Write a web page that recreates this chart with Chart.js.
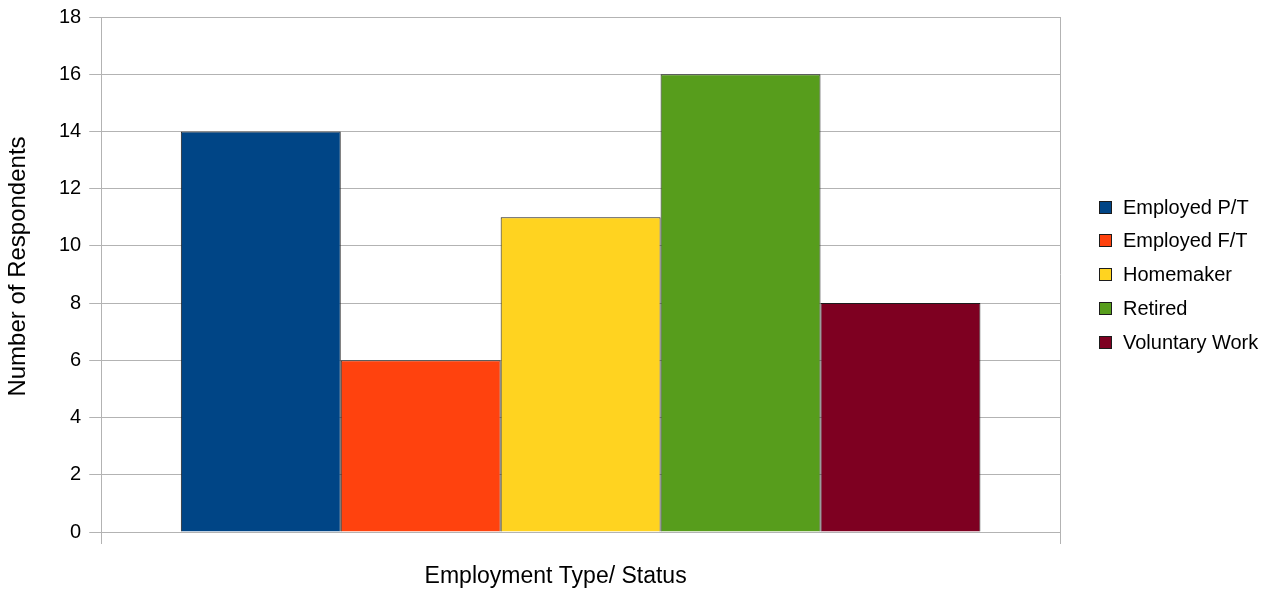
<!DOCTYPE html>
<html>
<head>
<meta charset="utf-8">
<script src="https://cdn.jsdelivr.net/npm/chart.js@4/dist/chart.umd.min.js"></script>
<style>
  html, body { margin: 0; padding: 0; background: #fff; }
  #wrap { width: 1287px; height: 592px; }
</style>
</head>
<body>
<div id="wrap"><canvas id="c" width="1287" height="592"></canvas></div>
<script>
const seriesNames = ['Employed P/T', 'Employed F/T', 'Homemaker', 'Retired', 'Voluntary Work'];
const seriesValues = [14, 6, 11, 16, 8];
const categories = [''];
const yTicks = [0, 2, 4, 6, 8, 10, 12, 14, 16, 18];
const xTitle = 'Employment Type/ Status';
const yTitle = 'Number of Respondents';
const seriesColors = ['#004586', '#ff420e', '#ffd320', '#579d1c', '#7e0021'];

const FONT = "'Liberation Sans', Arial, sans-serif";

const datasets = seriesNames.map((name, i) => ({
  label: name,
  data: [seriesValues[i]],
  backgroundColor: seriesColors[i],
  borderColor: '#1c1c1c',
  borderWidth: 1,
  borderSkipped: 'bottom',
  categoryPercentage: 0.834,
  barPercentage: 1.0
}));

const decorations = {
  id: 'decorations',
  afterDraw(chart) {
    const ctx = chart.ctx;
    const area = chart.chartArea;
    const n = chart.data.datasets.length;
    const row = 33.75;
    const cy = (area.top + area.bottom) / 2;
    const bx = area.right + 39;
    ctx.save();
    // legend
    ctx.font = "20px " + FONT;
    ctx.textBaseline = 'middle';
    ctx.textAlign = 'left';
    chart.data.datasets.forEach((ds, i) => {
      const y = cy + (i - (n - 1) / 2) * row;
      const top = Math.round(y - 6.5);
      ctx.fillStyle = ds.backgroundColor;
      ctx.fillRect(bx, top, 13, 13);
      ctx.strokeStyle = '#1c1c1c';
      ctx.lineWidth = 1;
      ctx.strokeRect(bx + 0.5, top + 0.5, 12, 12);
      ctx.fillStyle = '#000';
      ctx.fillText(ds.label, bx + 24, y + 1);
    });
    // axis titles
    ctx.fillStyle = '#000';
    ctx.font = "23px " + FONT;
    ctx.textAlign = 'center';
    ctx.textBaseline = 'middle';
    ctx.fillText(xTitle, (area.left + area.right) / 2 - 25, area.bottom + 45);
    ctx.translate(area.left - 83, cy - 8);
    ctx.rotate(-Math.PI / 2);
    ctx.font = "24px " + FONT;
    ctx.fillText(yTitle, 0, 0);
    ctx.restore();
  }
};

new Chart(document.getElementById('c'), {
  type: 'bar',
  data: { labels: categories, datasets },
  options: {
    responsive: false,
    animation: false,
    devicePixelRatio: 1,
    layout: { padding: { top: 10, right: 227, bottom: 48, left: 51 } },
    plugins: {
      legend: { display: false },
      tooltip: { enabled: false }
    },
    scales: {
      x: {
        offset: true,
        grid: { display: true, offset: true, color: '#b3b3b3', tickLength: 12, drawOnChartArea: true },
        border: { color: '#b3b3b3' },
        ticks: { display: false },
        title: { display: false }
      },
      y: {
        min: 0,
        max: 18,
        afterBuildTicks(scale) { scale.ticks = yTicks.map(v => ({ value: v })); },
        grid: { color: '#b3b3b3', tickLength: 12 },
        border: { color: '#b3b3b3' },
        ticks: {
          color: '#000',
          font: { family: FONT, size: 20, lineHeight: 0.9 },
          padding: 8
        },
        title: { display: false }
      }
    }
  },
  plugins: [decorations]
});
</script>
</body>
</html>
